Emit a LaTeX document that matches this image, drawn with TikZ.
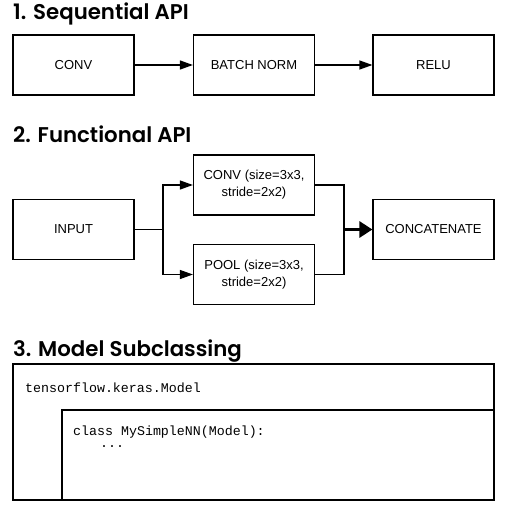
\documentclass[tikz,border=0pt]{standalone}
\usepackage{fontspec}
\setmainfont{Liberation Sans}
\setmonofont{Liberation Mono}
\newfontfamily\headfont{Poppins SemiBold}
\usetikzlibrary{arrows.meta}

\begin{document}
\begin{tikzpicture}[x=1pt,y=-1pt,
  layer/.style={draw,line width=1.2pt,minimum width=121pt,minimum height=60pt,
    inner sep=0pt,align=center,font=\fontsize{13}{17}\selectfont},
  head/.style={anchor=base west,inner sep=0pt,
    font=\headfont\fontsize{21.3}{24}\selectfont},
  flow/.style={line width=1.2pt,-{Triangle[length=13pt,width=9pt]}},
  merge/.style={line width=1.2pt},
  code/.style={anchor=base west,inner sep=0pt,align=left,
    font=\ttfamily\fontsize{13.3}{12.5}\selectfont}]
\useasboundingbox (0,0) rectangle (514,511);

\node[head] (seqtitle) at (13,20) {1. Sequential API};
\node[layer] (conv) at (73.5,65) {CONV};
\node[layer] (bnorm) at (254,65) {BATCH NORM};
\node[layer] (relu) at (433.5,65) {RELU};
\draw[flow] (conv) -- (bnorm);
\draw[flow] (bnorm) -- (relu);

\node[head] (funtitle) at (13,142) {2. Functional API};
\node[layer] (input) at (73.5,229.5) {INPUT};
\node[layer] (fconv) at (254,185) {CONV (size=3x3,\\stride=2x2)};
\node[layer] (pool) at (254,274.5) {POOL (size=3x3,\\stride=2x2)};
\node[layer] (concat) at (433.5,229.5) {CONCATENATE};
\coordinate (split) at (163,229.5);
\coordinate (join) at (344,229.5);
\draw[merge] (input) -- (split);
\draw[flow] (split) |- (fconv);
\draw[flow] (split) |- (pool);
\draw[merge] (fconv) -| (join);
\draw[merge] (pool) -| (join);
\draw[line width=3pt,-{Triangle[length=13pt,width=16pt]}] (join) -- (concat);

\node[head] (subtitle) at (13,356) {3. Model Subclassing};
\draw[line width=1.2pt] (13,364) rectangle (494,500);
\draw[line width=1.2pt] (62,500) |- (494,410);
\node[code] (base) at (25,392) {tensorflow.keras.Model};
\node[code] (mynn) at (73,447.5) {class MySimpleNN(Model):\\\hspace*{27pt}...};

\end{tikzpicture}
\end{document}
